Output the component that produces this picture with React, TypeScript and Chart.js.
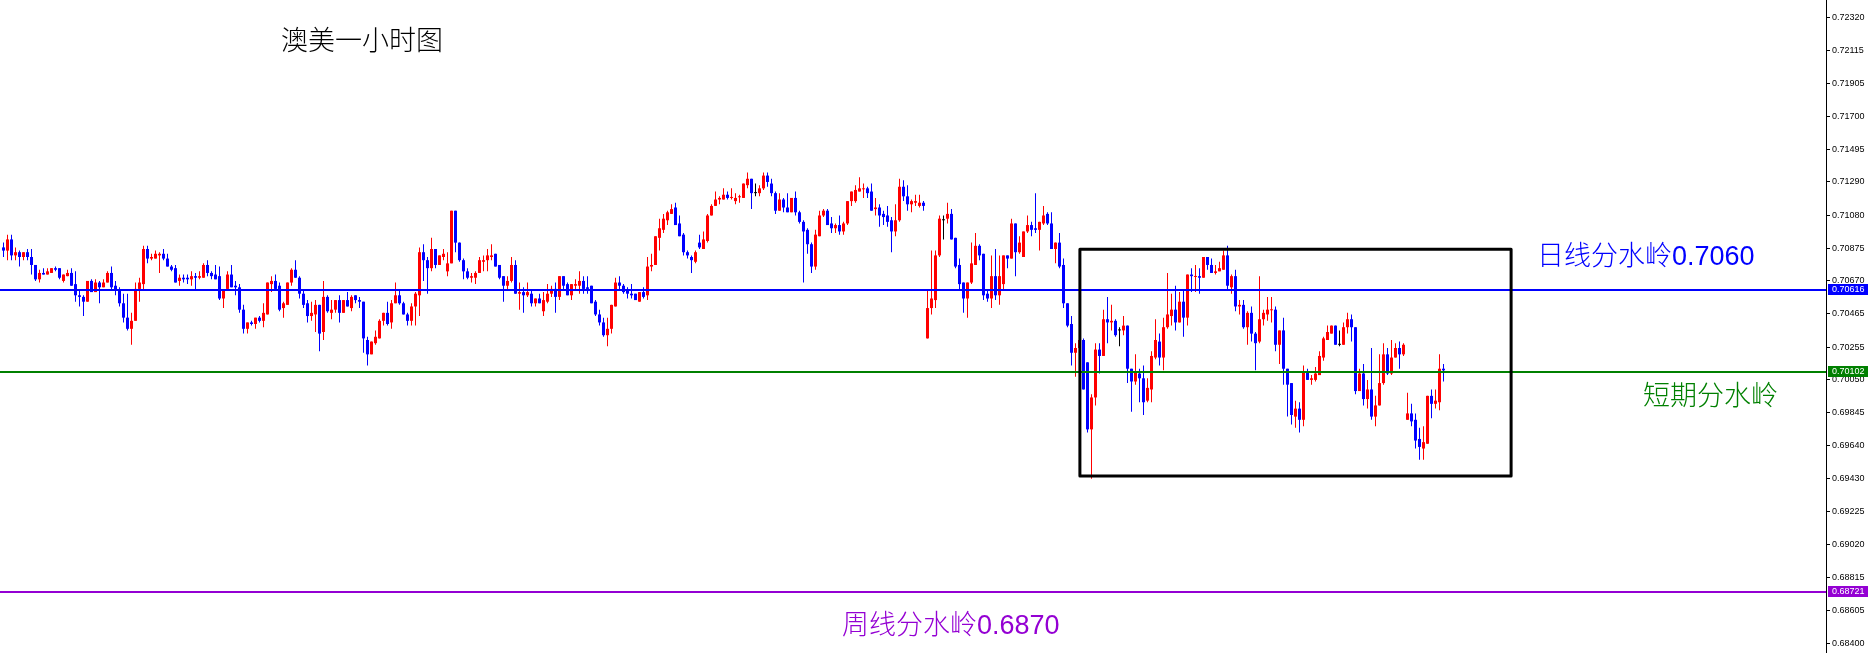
import React, { useEffect, useRef } from 'react';
import { Chart, registerables } from 'chart.js';
Chart.register(...registerables);

// AUD/USD 1-hour candles
const opens = [
0.7088,0.7086,0.7093,0.7083,0.7085,0.7082,0.7085,0.7082,0.7077,0.7068,
0.7072,0.7071,0.7072,0.7075,0.7075,0.7067,0.707,0.7072,0.7065,0.7058,
0.7057,0.7054,0.7067,0.706,0.7066,0.7063,0.7066,0.7072,0.7064,0.7061,
0.7053,0.7044,0.7037,0.7042,0.7062,0.7065,0.7087,0.7081,0.7081,0.7083,
0.7084,0.7081,0.7076,0.7075,0.7067,0.7069,0.7069,0.7068,0.707,0.7069,
0.7069,0.7077,0.7072,0.7071,0.707,0.7056,0.7062,0.7071,0.7064,0.7063,
0.7049,0.7037,0.7041,0.704,0.7044,0.7042,0.7046,0.7065,0.7067,0.7064,
0.705,0.7052,0.7066,0.7074,0.7069,0.7059,0.7053,0.7045,0.7046,0.7052,
0.7035,0.7057,0.7047,0.7049,0.7055,0.7047,0.7055,0.705,0.7058,0.7055,
0.7054,0.703,0.7021,0.7028,0.7031,0.7042,0.7047,0.7041,0.7053,0.7058,
0.7053,0.7046,0.7042,0.7051,0.7058,0.7085,0.708,0.7075,0.7087,0.7077,
0.7082,0.7073,0.7078,0.7111,0.7091,0.708,0.7073,0.7069,0.7069,0.7072,
0.7079,0.708,0.7082,0.7084,0.7077,0.707,0.7064,0.7067,0.7077,0.7059,
0.706,0.7058,0.7059,0.7053,0.7056,0.7048,0.7054,0.7059,0.7062,0.7057,
0.707,0.7065,0.7058,0.7064,0.7064,0.7067,0.7063,0.7064,0.7054,0.7046,
0.7041,0.7033,0.7037,0.7051,0.7066,0.7064,0.7061,0.7059,0.7059,0.7054,
0.706,0.7058,0.7076,0.7077,0.7094,0.7099,0.7105,0.7109,0.7113,0.7103,
0.7096,0.7085,0.7082,0.7079,0.7091,0.7087,0.7092,0.7108,0.7114,0.7118,
0.7118,0.7121,0.7119,0.7117,0.71194,0.7119,0.7127,0.7131,0.7122,0.7122,
0.7125,0.7133,0.7128,0.7122,0.7111,0.7118,0.7113,0.711,0.7119,0.711,
0.7104,0.7099,0.709,0.7076,0.7095,0.7108,0.7111,0.7103,0.71,0.7102,
0.7098,0.7103,0.7117,0.7117,0.7123,0.71244,0.7125,0.7123,0.7112,0.7113,
0.7109,0.7108,0.7105,0.7098,0.7105,0.7126,0.712,0.7115,0.7116,0.7114,
0.7116,0.7031,0.705,0.7055,0.7083,0.7105,0.7106,0.7109,0.7094,0.7077,
0.7066,0.7056,0.7066,0.7077,0.7089,0.7084,0.7059,0.7056,0.707,0.7058,
0.7065,0.7083,0.7081,0.7103,0.7085,0.7082,0.7098,0.7102,0.71,0.7099,
0.7103,0.7109,0.7103,0.7087,0.7091,0.7077,0.7053,0.704,0.7022,0.7025,
0.703,0.7016,0.6974,0.6994,0.7024,0.702,0.7043,0.7041,0.7042,0.7036,
0.7036,0.7039,0.7012,0.7004,0.7009,0.7006,0.6992,0.6999,0.7019,0.7029,
0.7019,0.7038,0.7045,0.7049,0.7041,0.7054,0.7044,0.7071,0.70695,0.707,
0.7069,0.7082,0.7077,0.7072,0.7073,0.7074,0.7083,0.7063,0.707,0.7051,
0.7052,0.7038,0.7047,0.7034,0.7029,0.7043,0.7046,0.70486,0.7049,0.7027,
0.7036,0.7012,0.7003,0.6982,0.6987,0.698,0.701,0.7005,0.7005,0.7008,
0.7019,0.703,0.7034,0.7039,0.7027,0.7027,0.7038,0.7043,0.7038,0.6998,
0.7009,0.6993,0.6999,0.6982,0.6989,0.7003,0.7021,0.7009,0.7019,0.7025,
0.7021,0.698,0.6984,0.698,0.6968,0.6962,0.6965,0.6995,0.699,0.6991,
0.7012];

const highs = [
0.7091,0.7096,0.7096,0.7088,0.7086,0.7085,0.7087,0.7087,0.7077,0.7074,
0.7075,0.7075,0.7075,0.7076,0.7075,0.7071,0.7074,0.7075,0.7073,0.7061,
0.7058,0.7067,0.7068,0.7068,0.7067,0.7068,0.7073,0.7076,0.7067,0.7063,
0.7059,0.7059,0.7047,0.7066,0.7069,0.7089,0.7089,0.7084,0.7086,0.7085,
0.7087,0.7084,0.7077,0.7077,0.7071,0.7071,0.7071,0.7073,0.7072,0.7073,
0.7078,0.708,0.7073,0.7077,0.7076,0.7061,0.7073,0.7077,0.7067,0.7065,
0.7052,0.7041,0.7042,0.7044,0.7045,0.7053,0.7066,0.707,0.7071,0.7066,
0.7054,0.7066,0.7075,0.708,0.707,0.7062,0.7055,0.7054,0.7055,0.7052,
0.7067,0.7058,0.7055,0.7055,0.7058,0.7055,0.706,0.7058,0.7058,0.7057,
0.7054,0.7032,0.7029,0.7036,0.7043,0.7047,0.7054,0.7055,0.7066,0.7061,
0.7054,0.7047,0.7053,0.706,0.7088,0.709,0.7082,0.7094,0.7087,0.7083,
0.7087,0.7085,0.7111,0.7111,0.7091,0.7081,0.7075,0.7072,0.7073,0.7082,
0.7083,0.7087,0.709,0.7084,0.7077,0.707,0.707,0.7082,0.708,0.7066,
0.7063,0.7066,0.7061,0.7056,0.7059,0.706,0.7065,0.7064,0.7066,0.707,
0.707,0.7066,0.7065,0.7068,0.7073,0.707,0.707,0.7064,0.7055,0.7049,
0.7044,0.7044,0.7052,0.7069,0.707,0.7065,0.7063,0.7065,0.7059,0.706,
0.7063,0.7082,0.7084,0.7095,0.7106,0.7109,0.7111,0.7115,0.7116,0.7108,
0.7097,0.7086,0.7083,0.7086,0.7096,0.7098,0.7109,0.7115,0.7123,0.712,
0.7125,0.7123,0.7125,0.7122,0.7121,0.7128,0.7135,0.7131,0.7128,0.7127,
0.7135,0.7135,0.7131,0.7123,0.7122,0.7119,0.7122,0.7119,0.7123,0.7111,
0.7105,0.71,0.7091,0.7099,0.7111,0.7112,0.7112,0.7107,0.7103,0.7108,
0.7104,0.7117,0.7123,0.7127,0.7132,0.7128,0.7126,0.7128,0.7119,0.7115,
0.7111,0.7114,0.7107,0.7115,0.7131,0.713,0.7127,0.7118,0.7121,0.7121,
0.7117,0.7061,0.7086,0.7086,0.7108,0.7108,0.7116,0.7112,0.7094,0.7081,
0.7066,0.7066,0.7091,0.7097,0.709,0.7084,0.7062,0.7083,0.7087,0.7083,
0.7083,0.7083,0.7106,0.7103,0.7095,0.7098,0.7108,0.7104,0.7122,0.7104,
0.7114,0.711,0.711,0.7091,0.7097,0.7081,0.7053,0.7045,0.7028,0.703,
0.7031,0.7016,0.6996,0.7028,0.7028,0.7049,0.7057,0.7052,0.7043,0.7038,
0.7045,0.7039,0.7012,0.7021,0.7012,0.7014,0.7006,0.7023,0.7043,0.7034,
0.7044,0.7072,0.7059,0.7064,0.706,0.7062,0.7071,0.7075,0.7077,0.7075,
0.7082,0.7082,0.7081,0.7077,0.7079,0.7086,0.7089,0.7071,0.7074,0.7055,
0.7055,0.7048,0.7051,0.7035,0.707,0.7049,0.7057,0.7057,0.7051,0.7036,
0.7044,0.7012,0.7003,0.6992,0.6991,0.7014,0.7012,0.7008,0.7013,0.7023,
0.7032,0.7039,0.7039,0.7039,0.7036,0.7041,0.7047,0.7046,0.7038,0.7012,
0.7015,0.7005,0.7025,0.6995,0.7021,0.7028,0.7025,0.703,0.7028,0.7029,
0.7028,0.6997,0.699,0.6984,0.6975,0.6976,0.6995,0.6999,0.6999,0.7021,
0.7015];

const lows = [
0.7082,0.708,0.708,0.708,0.7076,0.708,0.708,0.7071,0.7067,0.7066,
0.7071,0.7071,0.7072,0.7073,0.7068,0.7066,0.707,0.7064,0.7054,0.7051,
0.7045,0.7054,0.706,0.706,0.7053,0.7063,0.7066,0.7062,0.7058,0.7051,
0.7041,0.7036,0.7027,0.7042,0.7054,0.7062,0.7078,0.708,0.7081,0.7072,
0.708,0.7076,0.7073,0.7066,0.7064,0.7066,0.7065,0.7064,0.7062,0.7068,
0.7069,0.707,0.7068,0.7068,0.7055,0.705,0.7061,0.7063,0.7058,0.7047,
0.7034,0.7034,0.7039,0.7037,0.7041,0.7038,0.7046,0.706,0.7061,0.7048,
0.7044,0.7052,0.7064,0.7069,0.7056,0.705,0.7041,0.7042,0.7035,0.7023,
0.703,0.7047,0.7043,0.7047,0.7041,0.7047,0.7051,0.7048,0.7053,0.705,
0.7022,0.7014,0.7021,0.7027,0.7031,0.7039,0.7039,0.7037,0.7053,0.7052,
0.7046,0.7039,0.7039,0.7039,0.7045,0.7067,0.7059,0.7073,0.7075,0.7077,
0.708,0.707,0.7078,0.7085,0.7079,0.7068,0.7068,0.7066,0.7065,0.7072,
0.7073,0.7073,0.708,0.7076,0.7068,0.7054,0.7061,0.7066,0.7059,0.7049,
0.7047,0.7057,0.7051,0.7051,0.7053,0.7045,0.7053,0.7057,0.7047,0.7055,
0.7062,0.7058,0.7055,0.7061,0.7059,0.7059,0.7059,0.7053,0.7045,0.7039,
0.7032,0.7026,0.7034,0.7051,0.7061,0.7059,0.7056,0.7056,0.7055,0.7054,
0.7056,0.7055,0.7073,0.7077,0.7086,0.7097,0.7102,0.7109,0.7102,0.7095,
0.7083,0.7081,0.7072,0.7078,0.7087,0.7087,0.7091,0.7108,0.7114,0.7115,
0.7118,0.7118,0.7118,0.7115,0.7116,0.7119,0.7125,0.7112,0.712,0.712,
0.7124,0.7126,0.712,0.7109,0.7111,0.711,0.711,0.711,0.7108,0.7103,
0.7066,0.7084,0.7072,0.7074,0.7095,0.7107,0.7102,0.7097,0.7097,0.7096,
0.7096,0.7102,0.7114,0.7116,0.7123,0.7119,0.7119,0.7111,0.7108,0.7101,
0.7102,0.7101,0.7085,0.7095,0.7104,0.7117,0.7111,0.711,0.7114,0.7113,
0.7111,0.7031,0.7046,0.705,0.7082,0.7093,0.7103,0.7093,0.7075,0.7062,
0.7047,0.7044,0.7065,0.7077,0.708,0.7055,0.7054,0.705,0.7055,0.7052,
0.7062,0.7075,0.7081,0.707,0.7084,0.7082,0.7097,0.7095,0.7097,0.7086,
0.7102,0.7102,0.7087,0.7078,0.7075,0.705,0.7038,0.7014,0.7007,0.7022,
0.6999,0.6972,0.6943,0.6989,0.7009,0.702,0.7028,0.7036,0.7032,0.7026,
0.7033,0.7003,0.6985,0.7002,0.6991,0.6983,0.6991,0.6991,0.7018,0.7014,
0.7011,0.7037,0.7039,0.7036,0.7041,0.7032,0.7039,0.706,0.706,0.7059,
0.7069,0.7074,0.7072,0.7071,0.7073,0.7074,0.7062,0.7059,0.7048,0.7046,
0.7037,0.7027,0.7029,0.7011,0.7028,0.7039,0.7042,0.7041,0.7023,0.7015,
0.7002,0.6982,0.6977,0.6975,0.6972,0.6976,0.7005,0.7002,0.7004,0.7008,
0.7017,0.703,0.7034,0.7027,0.7026,0.7027,0.7034,0.7029,0.6996,0.6998,
0.6989,0.6987,0.698,0.6976,0.6989,0.7002,0.7008,0.7008,0.7019,0.7012,
0.702,0.698,0.6976,0.6962,0.6955,0.6955,0.6965,0.6981,0.6987,0.6986,
0.7004];

const closes = [
0.7086,0.7093,0.7083,0.7085,0.7082,0.7085,0.7082,0.7077,0.7068,0.7072,
0.7071,0.7073,0.7075,0.7074,0.7069,0.7071,0.7072,0.7064,0.7058,0.7057,
0.7054,0.7067,0.706,0.7066,0.7063,0.7066,0.7072,0.7063,0.7061,0.7053,
0.7044,0.7037,0.7042,0.7062,0.7066,0.7087,0.7081,0.7082,0.7084,0.7084,
0.7081,0.7076,0.7074,0.7066,0.7069,0.7068,0.7068,0.707,0.7069,0.707,
0.7077,0.7072,0.707,0.7068,0.7056,0.7061,0.7071,0.7063,0.7063,0.7049,
0.7037,0.7041,0.704,0.7044,0.7042,0.7047,0.7066,0.7067,0.7062,0.7049,
0.7053,0.7066,0.7074,0.7069,0.7059,0.7052,0.7045,0.7047,0.7052,0.7034,
0.7057,0.7048,0.7049,0.7055,0.7047,0.7055,0.7051,0.7057,0.7055,0.7054,
0.7031,0.7021,0.7029,0.7032,0.7042,0.7047,0.704,0.7053,0.7058,0.7053,
0.7046,0.7042,0.7051,0.7059,0.7085,0.708,0.7075,0.7087,0.7077,0.7083,
0.7084,0.7078,0.7111,0.7091,0.708,0.7073,0.7069,0.707,0.7072,0.708,
0.708,0.7083,0.7083,0.7076,0.7069,0.7064,0.7067,0.7077,0.7059,0.706,
0.7058,0.706,0.7053,0.7056,0.7053,0.7055,0.7059,0.7062,0.7057,0.707,
0.7064,0.7058,0.7065,0.7065,0.7067,0.7062,0.7062,0.7053,0.7046,0.7041,
0.7033,0.7037,0.7052,0.7066,0.7064,0.706,0.7059,0.7058,0.7055,0.706,
0.7057,0.7076,0.7077,0.7095,0.71,0.7106,0.711,0.7112,0.7102,0.7095,
0.7085,0.7083,0.708,0.7085,0.7088,0.7093,0.7108,0.7114,0.7118,0.7119,
0.7121,0.7119,0.71195,0.7119,0.71199,0.7128,0.7131,0.7122,0.7122,0.7125,
0.7133,0.7129,0.7122,0.7111,0.7118,0.7113,0.711,0.7119,0.711,0.7104,
0.7098,0.709,0.7076,0.7096,0.7108,0.7111,0.7102,0.71,0.7102,0.7098,
0.7103,0.7117,0.7123,0.7124,0.7125,0.7125,0.7122,0.7111,0.7113,0.7108,
0.7107,0.7104,0.7098,0.7105,0.7126,0.712,0.7115,0.7117,0.7117,0.7116,
0.7114,0.705,0.7056,0.7083,0.7106,0.7105,0.7109,0.7093,0.7076,0.7065,
0.7056,0.7066,0.7078,0.7089,0.7083,0.7058,0.7056,0.707,0.7058,0.707,
0.7083,0.7081,0.7103,0.7085,0.7091,0.7098,0.7102,0.7099,0.7099,0.7104,
0.7108,0.7103,0.7087,0.7091,0.7076,0.7053,0.7039,0.7022,0.7025,0.703,
0.6999,0.6974,0.6994,0.7024,0.702,0.7043,0.7041,0.7042,0.7033,0.7036,
0.7039,0.7012,0.7004,0.701,0.7006,0.6991,0.7,0.702,0.703,0.7019,
0.7038,0.7046,0.7049,0.7041,0.7054,0.7044,0.7071,0.707,0.70701,0.7069,
0.7082,0.7077,0.7072,0.7073,0.7075,0.7083,0.7064,0.707,0.7051,0.7052,
0.7038,0.7047,0.7034,0.7028,0.7043,0.7047,0.7049,0.70492,0.7027,0.7036,
0.7012,0.7002,0.6983,0.6987,0.698,0.701,0.7005,0.7006,0.7009,0.702,
0.7031,0.7035,0.7039,0.7027,0.7027,0.7038,0.7043,0.7038,0.6998,0.7009,
0.6993,0.6999,0.6982,0.6989,0.7003,0.7021,0.7009,0.7019,0.7025,0.7021,
0.7027,0.6984,0.6979,0.6967,0.6963,0.6966,0.6995,0.699,0.6992,0.7012,
0.7011];

const yTickValues = [
0.7232, 0.72115, 0.71905, 0.717, 0.71495, 0.7129, 0.7108, 0.70875, 0.7067, 0.70465,
0.70255, 0.7005, 0.69845, 0.6964, 0.6943, 0.69225, 0.6902, 0.68815, 0.68605, 0.684];

const dailyLevel = 0.70616;
const shortLevel = 0.70102;
const weeklyLevel = 0.68721;
const boxFromIndex = 269.1;
const boxToIndex = 376.9;
const boxTop = 0.70868;
const boxBottom = 0.69448;

const titleText = '澳美一小时图';
const dailyText = '日线分水岭0.7060';
const shortText = '短期分水岭';
const weeklyText = '周线分水岭0.6870';

const UP = '#ff0000';
const DOWN = '#0000ff';
const FLAT = '#000000';
const BLUE = '#0000ff';
const GREEN = '#008000';
const PURPLE = '#9400d3';

export default function App() {
  const ref = useRef<HTMLCanvasElement>(null);
  useEffect(() => {
    const canvas = ref.current as HTMLCanvasElement;
    const colors = opens.map((o, i) => (closes[i] > o ? UP : closes[i] < o ? DOWN : FLAT));

    const overlay = {
      id: 'overlay',
      afterDatasetsDraw(chart: any) {
        const { ctx, chartArea, scales } = chart;
        const ys = scales.y;
        const xs = scales.x;
        ctx.save();
        const levels: [number, string][] = [[dailyLevel, BLUE], [shortLevel, GREEN], [weeklyLevel, PURPLE]];
        for (const [v, c] of levels) {
          const py = Math.round(ys.getPixelForValue(v));
          ctx.fillStyle = c;
          ctx.fillRect(chartArea.left, py - 1, chartArea.right - chartArea.left, 2);
        }
        const bx1 = xs.getPixelForValue(boxFromIndex);
        const bx2 = xs.getPixelForValue(boxToIndex);
        const by1 = ys.getPixelForValue(boxTop);
        const by2 = ys.getPixelForValue(boxBottom);
        ctx.strokeStyle = '#000';
        ctx.lineWidth = 3;
        ctx.lineJoin = 'round';
        ctx.strokeRect(bx1, by1, bx2 - bx1, by2 - by1);

        ctx.textAlign = 'left';
        ctx.textBaseline = 'middle';
        ctx.font = '300 27px "Noto Sans CJK SC"';
        ctx.fillStyle = '#000';
        ctx.fillText(titleText, 281, 40);
        ctx.font = '300 27px "Liberation Sans", "Noto Sans CJK SC"';
        ctx.fillStyle = BLUE;
        ctx.fillText(dailyText, 1537, 257.5);
        ctx.fillStyle = GREEN;
        ctx.fillText(shortText, 1643, 397.5);
        ctx.fillStyle = PURPLE;
        ctx.fillText(weeklyText, 842, 626.5);
        ctx.restore();
      },
      afterDraw(chart: any) {
        const { ctx, chartArea, scales } = chart;
        const ys = scales.y;
        ctx.save();
        const levels: [number, string][] = [[dailyLevel, BLUE], [shortLevel, GREEN], [weeklyLevel, PURPLE]];
        ctx.font = '9px "Liberation Sans"';
        ctx.textAlign = 'left';
        ctx.textBaseline = 'middle';
        for (const [v, c] of levels) {
          const py = Math.round(ys.getPixelForValue(v));
          ctx.fillStyle = c;
          ctx.fillRect(chartArea.right + 2, py - 6, 40, 11);
          ctx.fillStyle = '#fff';
          ctx.fillText(v.toFixed(5), chartArea.right + 6, py - 0.5);
        }
        ctx.restore();
      },
    };

    const chart = new Chart(canvas, {
      type: 'bar',
      data: {
        datasets: [
          {
            label: 'wick',
            data: opens.map((_, i) => ({ x: i, y: [lows[i], highs[i]] })),
            backgroundColor: colors,
            barThickness: 1,
            grouped: false,
            order: 2,
            inflateAmount: 0,
            borderWidth: 0,
            minBarLength: 1,
          } as any,
          {
            label: 'body',
            data: opens.map((o, i) => ({ x: i, y: [Math.min(o, closes[i]), Math.max(o, closes[i])] })),
            backgroundColor: colors,
            barThickness: 3,
            grouped: false,
            order: 1,
            inflateAmount: 0,
            borderWidth: 0,
            minBarLength: 1,
          } as any,
        ],
      },
      options: {
        responsive: false,
        animation: false,
        devicePixelRatio: 1,
        layout: { padding: 0 },
        plugins: {
          legend: { display: false },
          tooltip: { enabled: false },
          title: { display: false },
        },
        scales: {
          x: {
            type: 'linear',
            display: false,
            min: -0.875,
            max: 455.625,
            offset: false,
            grid: { display: false },
          },
          y: {
            type: 'linear',
            position: 'right',
            min: 0.68339,
            max: 0.7243,
            afterBuildTicks: (s: any) => {
              s.ticks = yTickValues.map((v) => ({ value: v }));
            },
            afterFit: (s: any) => {
              s.width = 47;
              s.paddingTop = 0;
              s.paddingBottom = 0;
            },
            ticks: {
              autoSkip: false,
              padding: 2,
              color: '#000',
              font: { family: 'Liberation Sans', size: 9 },
              callback: (v: any) => Number(v).toFixed(5),
            },
            grid: { drawOnChartArea: false, drawTicks: true, tickLength: 4, color: '#000', lineWidth: 1 },
            border: { display: true, color: '#000', width: 1 },
          },
        },
      } as any,
      plugins: [overlay],
    });
    return () => chart.destroy();
  }, []);

  return (
    <div style={{ position: 'absolute', left: 0, top: 0, width: 1873, height: 653, background: '#fff' }}>
      <canvas ref={ref} width={1873} height={653} style={{ display: 'block', width: 1873, height: 653 }} />
    </div>
  );
}
